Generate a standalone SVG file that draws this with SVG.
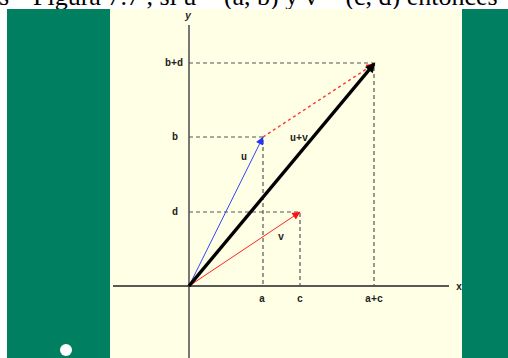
<svg xmlns="http://www.w3.org/2000/svg" width="508" height="358" viewBox="0 0 508 358">
<defs>
<style>
.lbl{font-family:"Liberation Mono",monospace;font-size:10px;font-weight:bold;fill:#222}
.dash{stroke:#555;stroke-width:1.2;stroke-dasharray:4,3;fill:none}
.top{font-family:"Liberation Serif",serif;font-size:26px;fill:#000}
</style>
<marker id="mBlue" viewBox="0 0 10 10" refX="9.5" refY="5" markerWidth="13" markerHeight="8" orient="auto" markerUnits="userSpaceOnUse"><path d="M0,0 L10,5 L0,10 z" fill="#2233ff"/></marker>
<marker id="mRed" viewBox="0 0 10 10" refX="9.5" refY="5" markerWidth="13" markerHeight="8" orient="auto" markerUnits="userSpaceOnUse"><path d="M0,0 L10,5 L0,10 z" fill="#ff1111"/></marker>
<marker id="mBlack" viewBox="0 0 10 10" refX="8" refY="5" markerWidth="14" markerHeight="10" orient="auto" markerUnits="userSpaceOnUse"><path d="M0,0 L10,5 L0,10 z" fill="#000"/></marker>
</defs>
<rect width="508" height="358" fill="#fff"/>
<g id="heading" class="top">
<text x="-1" y="5">s</text>
<text x="33" y="5">Figura 7.7 , si u = (a, b) y v = (c, d) entonces</text>
</g>
<rect x="7" y="9" width="103" height="349" fill="#008060"/>
<rect x="110" y="9" width="352" height="349" fill="#ffffe5"/>
<rect x="462" y="9" width="46" height="349" fill="#008060"/>
<circle cx="66" cy="350" r="6" fill="#fff"/>
<g id="axes">
<line x1="189" y1="25" x2="189" y2="358" stroke="#777" stroke-width="2"/>
<line x1="113" y1="286" x2="449" y2="286" stroke="#222" stroke-width="1.4"/>
<text class="lbl" x="188" y="19" text-anchor="middle" font-style="italic">y</text>
<text class="lbl" x="459" y="290" text-anchor="middle">x</text>
</g>
<g id="guides">
<path class="dash" d="M189,63 H374 V286"/>
<path class="dash" d="M189,137 H263 V286"/>
<path class="dash" d="M189,212 H300 V286"/>
</g>
<g id="labels">
<text class="lbl" x="174" y="66" text-anchor="middle">b+d</text>
<text class="lbl" x="175" y="140" text-anchor="middle">b</text>
<text class="lbl" x="175" y="215" text-anchor="middle">d</text>
<text class="lbl" x="262" y="302" text-anchor="middle">a</text>
<text class="lbl" x="300" y="302" text-anchor="middle">c</text>
<text class="lbl" x="374" y="302" text-anchor="middle">a+c</text>
<text class="lbl" x="244" y="160" text-anchor="middle">u</text>
<text class="lbl" x="281" y="240" text-anchor="middle">v</text>
<text class="lbl" x="299" y="141" text-anchor="middle">u+v</text>
</g>
<g id="connectors">
<line x1="263" y1="137" x2="374" y2="64" stroke="#ff3333" stroke-width="1.4" stroke-dasharray="3,3" marker-end="url(#mRed)"/>
<line x1="189" y1="286" x2="263" y2="137" stroke="#3344ff" stroke-width="1" marker-end="url(#mBlue)"/>
<line x1="189" y1="286" x2="300" y2="212" stroke="#ff2222" stroke-width="1" marker-end="url(#mRed)"/>
<line x1="189" y1="286" x2="374" y2="64" stroke="#000" stroke-width="3.5" marker-end="url(#mBlack)"/>
</g>
</svg>
